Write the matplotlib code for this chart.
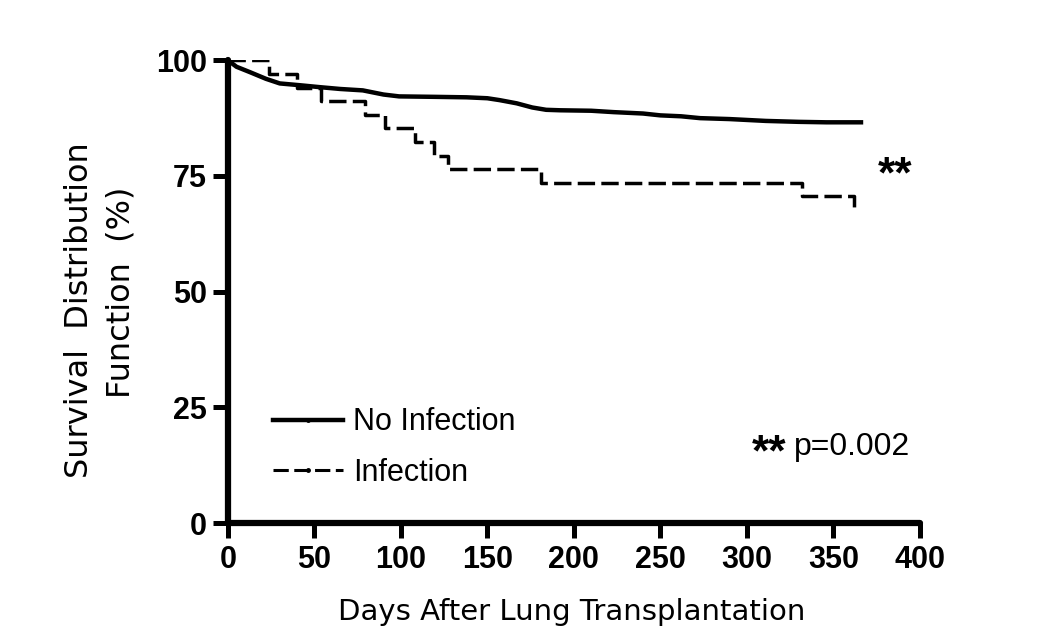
import numpy as np
import matplotlib.pyplot as plt
from matplotlib.lines import Line2D

plt.rcParams['font.family'] = ['Liberation Sans', 'DejaVu Sans']

# Survival data
no_inf_days = [0, 5, 13, 22, 30, 42, 53, 65, 78, 90, 99, 120, 138, 150, 157, 167,
               176, 184, 192, 210, 223, 240, 250, 262, 273, 290, 311, 330, 346, 366]
no_inf_surv = [100, 98.6, 97.4, 96.0, 95.0, 94.6, 94.2, 93.8, 93.5, 92.6, 92.2, 92.1,
               92.0, 91.8, 91.4, 90.7, 89.8, 89.3, 89.2, 89.1, 88.8, 88.5, 88.1, 87.9,
               87.5, 87.3, 86.9, 86.7, 86.6, 86.6]

inf_days = [0, 24, 40, 54, 79, 91, 108, 119, 127, 181, 332, 362]
inf_surv = [100, 97.1, 94.1, 91.2, 88.2, 85.3, 82.4, 79.4, 76.5, 73.5, 70.6, 67.4]

xticks = [0, 50, 100, 150, 200, 250, 300, 350, 400]
yticks = [0, 25, 50, 75, 100]

fig = plt.figure(figsize=(10.5, 6.28), dpi=100)
ax = fig.add_axes([0.217, 0.167, 0.659, 0.737])

ax.plot(no_inf_days, no_inf_surv, color='black', lw=3.2)
ax.step(inf_days, inf_surv, where='post', color='black', lw=2.5, dashes=(5, 1.8))

ax.set_xlim(0, 400)
ax.set_ylim(0, 100)
ax.set_xticks(xticks)
ax.set_yticks(yticks)
for s in ['top', 'right']:
    ax.spines[s].set_visible(False)
for s in ['left', 'bottom']:
    ax.spines[s].set_linewidth(4.5)
    ax.spines[s].set_capstyle('round')
ax.tick_params(axis='both', width=3.6, length=11, labelsize=22)
ax.tick_params(axis='x', pad=5)
ax.tick_params(axis='y', pad=4)
for lbl in ax.get_xticklabels() + ax.get_yticklabels():
    lbl.set_fontweight('bold')

# axis titles
ax.set_xlabel('Days After Lung Transplantation', fontsize=21, family='DejaVu Sans')
ax.xaxis.label.set_va('baseline')
ax.xaxis.set_label_coords(0.497, -0.2095)
ax.text(-0.2023, 0.46, 'Survival  Distribution', transform=ax.transAxes, rotation=90,
        rotation_mode='anchor', ha='center', va='baseline', fontsize=23, family='DejaVu Sans')
ax.text(-0.1416, 0.499, 'Function  (%)', transform=ax.transAxes, rotation=90,
        rotation_mode='anchor', ha='center', va='baseline', fontsize=23, family='DejaVu Sans')

# legend
handles = [Line2D([], [], color='black', lw=3.2, marker='.', markersize=5),
           Line2D([], [], color='black', lw=2.2, dashes=(5, 1.8), marker='.', markersize=5)]
ax.legend(handles, ['No Infection', 'Infection'], loc='upper left',
          bbox_to_anchor=(0.065, 0.250), frameon=False, fontsize=22,
          borderpad=0, borderaxespad=0,
          handlelength=2.3, handletextpad=0.33, labelspacing=0.66, numpoints=1)

ax.text(375.5, 72.6, '**', fontsize=32, fontweight='bold', ha='left', va='baseline')
ax.text(303, 12.4, '**', fontsize=32, fontweight='bold', ha='left', va='baseline')
ax.text(327.5, 14.7, 'p=0.002', fontsize=23, ha='left', va='baseline')

fig.savefig('out.png', dpi=100)
